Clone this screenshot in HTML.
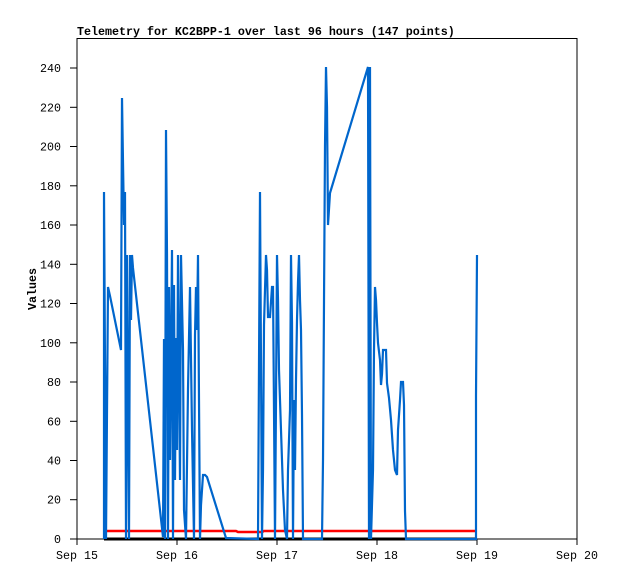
<!DOCTYPE html>
<html><head><meta charset="utf-8"><style>
html,body{margin:0;padding:0;background:#fff}
svg{display:block}
text{font-family:"Liberation Mono","DejaVu Sans Mono",monospace;font-size:11.67px;fill:#000}
</style></head><body>
<svg width="618" height="579" viewBox="0 0 618 579" xmlns="http://www.w3.org/2000/svg">
<text x="77" y="35" style="font-weight:bold">Telemetry for KC2BPP-1 over last 96 hours (147 points)</text>
<rect x="77" y="38.5" width="500" height="500.5" fill="none" stroke="#000" stroke-width="1"/>
<g stroke="#000" stroke-width="1">
<line x1="70" y1="539" x2="77" y2="539"/><line x1="70" y1="499.7" x2="77" y2="499.7"/><line x1="70" y1="460.5" x2="77" y2="460.5"/><line x1="70" y1="421.3" x2="77" y2="421.3"/><line x1="70" y1="382" x2="77" y2="382"/><line x1="70" y1="342.8" x2="77" y2="342.8"/><line x1="70" y1="303.5" x2="77" y2="303.5"/><line x1="70" y1="264.3" x2="77" y2="264.3"/><line x1="70" y1="225" x2="77" y2="225"/><line x1="70" y1="185.8" x2="77" y2="185.8"/><line x1="70" y1="146.5" x2="77" y2="146.5"/><line x1="70" y1="107.3" x2="77" y2="107.3"/><line x1="70" y1="68" x2="77" y2="68"/>
<line x1="77" y1="539" x2="77" y2="545"/><line x1="177" y1="539" x2="177" y2="545"/><line x1="277" y1="539" x2="277" y2="545"/><line x1="377" y1="539" x2="377" y2="545"/><line x1="477" y1="539" x2="477" y2="545"/><line x1="577" y1="539" x2="577" y2="545"/>
</g>
<g text-anchor="end">
<text x="61" y="543">0</text><text x="61" y="503.7">20</text><text x="61" y="464.5">40</text><text x="61" y="425.3">60</text><text x="61" y="386">80</text><text x="61" y="346.8">100</text><text x="61" y="307.5">120</text><text x="61" y="268.3">140</text><text x="61" y="229">160</text><text x="61" y="189.8">180</text><text x="61" y="150.5">200</text><text x="61" y="111.3">220</text><text x="61" y="72">240</text>
</g>
<g text-anchor="middle">
<text x="77" y="559">Sep 15</text><text x="177" y="559">Sep 16</text><text x="277" y="559">Sep 17</text><text x="377" y="559">Sep 18</text><text x="477" y="559">Sep 19</text><text x="577" y="559">Sep 20</text>
</g>
<text transform="translate(36,289) rotate(-90)" text-anchor="middle" style="font-weight:bold">Values</text>
<line x1="104" y1="539" x2="477" y2="539" stroke="#000" stroke-width="3"/>
<polyline fill="none" stroke="#f00" stroke-width="2.5" points="104,531 236,531 238,532 262,532 264,531 477,531"/>
<polyline fill="none" stroke="#0066cc" stroke-width="2.2" stroke-linejoin="miter" points="
104,539 104,192 105,365 106,539 107,412 108,287 110,296 121,350 122,98 123,162 124,225 125,192 126,539 127,255 128,400 129,539 130,255 131,320 132,255 133,268 163,537
164,339 165,539 166,130 167,255 168,539 169,287 170,460 172,250 173,539 174,285 175,480 176,338 177,450 178,255 180,480 181,255 183,350 184,510 186,539
188,389 190,287 192,430 194,539 195,335 196,287 197,330 198,255 199,400 200,539 201,505 203,475 205,475 207,477 226,538
258,539 259,365 260,192 261,365 262,539 263,470 264,325 266,255 267,270 268,317 270,317 272,287 273,287 274,410 275,539 276,400 277,255 278,300 279,370 281,430 283,490 285,530 287,539 288,470 290,410 291,255 292,323 293,539 294,400 295,470 296,380 297,320 298,282 299,255 300,300 301,330 302,415 303,539
322,539 323,460 324,302 325,146 326,67 327,107 328,225 330,193 368,67 369,539 370,67 371,539 373,470 374,350 375,287 376,300 377,323 378,343 380,360 381,385 382,374 383,350 386,350 387,383 389,398 391,420 393,450 395,470 397,475 398,430 400,400 401,382 403,382 404,405 405,511 406,539
476,539 476,396 477,255"/>
</svg>
</body></html>
